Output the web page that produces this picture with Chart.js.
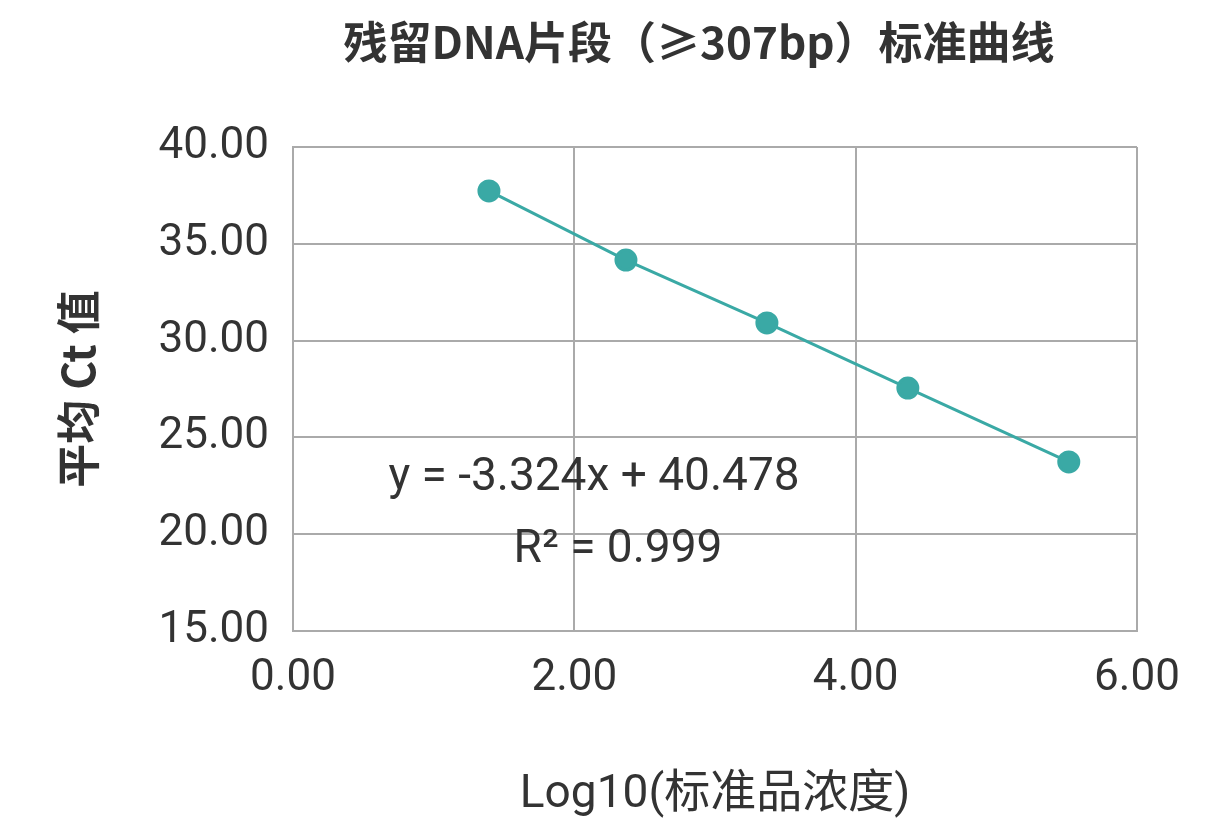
<!DOCTYPE html>
<html><head><meta charset="utf-8">
<script src="https://cdn.jsdelivr.net/npm/chart.js@4/dist/chart.umd.min.js"></script>
<style>html,body{margin:0;background:#fff}#w{width:1230px;height:827px}</style>
</head><body><div id="w"><canvas id="c"></canvas></div>
<script>
const xValues=[1.393,2.367,3.369,4.371,5.515];
const yValues=[37.73,34.16,30.91,27.55,23.73];
const titleText='残留DNA片段（≥307bp）标准曲线';
const xTitle='Log10(标准品浓度)';
const yTitle='平均 Ct 值';
const eqLines=['y = -3.324x + 40.478','R² = 0.999'];
const FF='Roboto,"Noto Sans CJK SC",sans-serif';
const CJ='"Noto Sans CJK SC","Noto Sans",sans-serif';
const teal='#3AA9A5';
const deco={id:'deco',afterDraw(c){const g=c.ctx;g.save();g.fillStyle='#333';g.textAlign='center';g.textBaseline='middle';
g.font='bold 44px '+CJ;g.fillText(titleText,699,42);
g.font='46px '+FF;g.fillText(eqLines[0],594,478);g.fillText(eqLines[1],618,550);g.restore();}};
new Chart(document.getElementById('c'),{type:'scatter',
data:{datasets:[{data:xValues.map((x,i)=>({x,y:yValues[i]})),showLine:true,borderColor:teal,backgroundColor:teal,borderWidth:3,pointRadius:10,pointHoverRadius:10}]},
options:{responsive:true,maintainAspectRatio:false,animation:false,devicePixelRatio:1,
layout:{padding:{top:147,right:93,bottom:0,left:0}},
plugins:{legend:{display:false},title:{display:false},tooltip:{enabled:false}},
scales:{
x:{min:0,max:6,ticks:{stepSize:2,padding:22,color:'#333',font:{size:44,family:FF},callback:v=>v.toFixed(2)},
grid:{color:'#aaa',lineWidth:2,drawTicks:false},border:{color:'#aaa',width:2},
title:{display:true,text:xTitle,color:'#333',font:{size:46,family:FF},padding:{top:38}},
afterFit(s){s.height=196;}},
y:{min:15,max:40,ticks:{stepSize:5,padding:24,color:'#333',font:{size:44,family:FF},callback:v=>v.toFixed(2)},
grid:{color:'#aaa',lineWidth:2,drawTicks:false},border:{color:'#aaa',width:2},
title:{display:true,text:yTitle,color:'#333',font:{size:44,weight:'bold',family:CJ},padding:{top:52,bottom:0}},
afterFit(s){s.width=293;}}}},
plugins:[deco]});
</script></body></html>
